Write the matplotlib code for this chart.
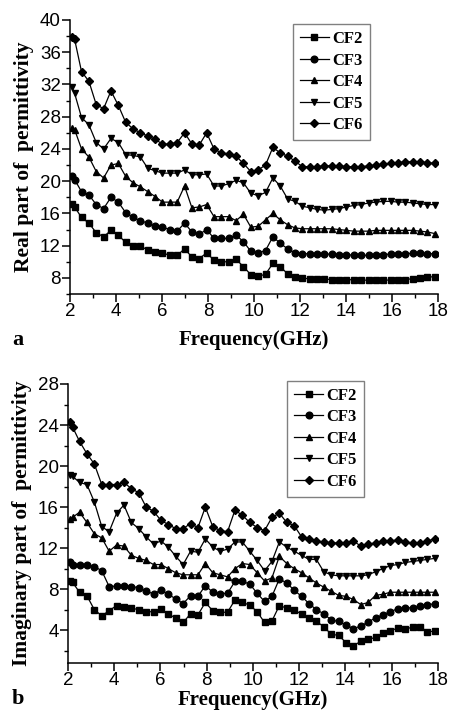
import matplotlib
matplotlib.use('Agg')
import matplotlib.pyplot as plt
from matplotlib.ticker import MultipleLocator

# frequency grid (GHz)
freq = [2.08, 2.2] + [round(2.5 + 0.32 * k, 2) for k in range(49)]

series_names = ['CF2', 'CF3', 'CF4', 'CF5', 'CF6']
markers = ['s', 'o', '^', 'v', 'D']

# (a) real part of permittivity
real_cf2 = [17.2, 16.8, 15.5, 14.8, 13.6, 13.1, 13.9, 13.3, 12.4, 12.0,
            11.9, 11.5, 11.2, 11.1, 10.8, 10.8, 11.6, 10.6, 10.4, 11.1,
            10.2, 10.0, 10.0, 10.3, 9.4, 8.4, 8.2, 8.45, 9.8, 9.4,
            8.5, 8.1, 7.95, 7.9, 7.85, 7.85, 7.8, 7.8, 7.8, 7.75,
            7.75, 7.7, 7.7, 7.7, 7.75, 7.75, 7.8, 7.9, 8.0, 8.1, 8.15]
real_cf3 = [20.6, 20.2, 18.7, 18.3, 17.1, 16.6, 18.0, 17.4, 16.1, 15.5,
            15.1, 14.8, 14.4, 14.3, 14.0, 13.8, 14.8, 13.7, 13.4, 14.0,
            12.9, 12.9, 12.9, 13.3, 12.5, 11.3, 11.1, 11.4, 13.1, 12.3,
            11.6, 11.1, 11.0, 11.0, 11.0, 10.95, 10.95, 10.9, 10.9, 10.8,
            10.8, 10.8, 10.85, 10.9, 10.95, 11.0, 11.0, 11.05, 11.05, 11.0, 11.0]
real_cf4 = [26.6, 26.4, 24.0, 23.0, 21.2, 20.4, 22.0, 22.2, 20.6, 19.8,
            19.3, 18.7, 18.1, 17.4, 17.4, 17.4, 19.4, 16.7, 16.8, 17.1,
            15.6, 15.6, 15.6, 15.1, 15.9, 14.3, 14.4, 15.2, 16.0, 15.2,
            14.6, 14.2, 14.1, 14.1, 14.1, 14.1, 14.1, 14.0, 13.9, 13.8,
            13.8, 13.8, 13.9, 13.9, 13.9, 13.9, 13.9, 13.9, 13.8, 13.7, 13.5]
real_cf5 = [31.7, 30.9, 27.9, 27.0, 24.8, 24.0, 25.3, 24.8, 23.3, 23.2,
            23.0, 21.6, 21.3, 21.0, 21.0, 21.0, 21.4, 20.8, 20.8, 20.9,
            19.4, 19.4, 19.7, 20.1, 19.8, 18.5, 18.2, 18.6, 20.4, 19.4,
            17.8, 17.5, 16.9, 16.7, 16.5, 16.4, 16.5, 16.6, 16.8, 17.0,
            17.1, 17.3, 17.4, 17.5, 17.5, 17.4, 17.4, 17.3, 17.2, 17.1, 17.1]
real_cf6 = [37.9, 37.6, 33.6, 32.4, 29.5, 29.0, 31.2, 29.4, 27.3, 26.5,
            26.0, 25.6, 25.2, 24.6, 24.6, 24.8, 26.0, 24.6, 24.5, 26.0,
            24.0, 23.5, 23.4, 23.1, 22.2, 21.2, 21.4, 22.0, 24.2, 23.5,
            23.1, 22.5, 21.8, 21.8, 21.8, 21.9, 21.9, 21.9, 21.8, 21.8,
            21.8, 21.9, 22.0, 22.1, 22.2, 22.3, 22.4, 22.4, 22.4, 22.3, 22.2]

# (b) imaginary part of permittivity
imag_cf2 = [8.8, 8.65, 7.7, 7.35, 6.0, 5.4, 5.9, 6.4, 6.3, 6.15,
            6.0, 5.8, 5.8, 6.1, 5.55, 5.2, 4.75, 5.6, 5.5, 6.7,
            5.9, 5.75, 5.75, 6.95, 6.7, 6.45, 5.8, 4.75, 4.9, 6.4,
            6.15, 6.0, 5.55, 5.2, 4.85, 4.35, 3.6, 3.5, 2.8, 2.5,
            2.9, 3.1, 3.3, 3.7, 3.95, 4.2, 4.1, 4.3, 4.35, 3.85, 3.9]
imag_cf3 = [10.6, 10.4, 10.4, 10.35, 10.2, 9.8, 8.25, 8.3, 8.3, 8.25,
            8.15, 7.8, 7.55, 7.9, 7.5, 7.05, 6.6, 7.35, 7.3, 8.35,
            7.7, 7.55, 7.6, 8.75, 8.75, 8.5, 7.6, 6.8, 7.3, 9.0,
            8.6, 7.9, 7.3, 6.6, 6.0, 5.6, 5.0, 4.85, 4.5, 4.15,
            4.4, 4.8, 5.2, 5.5, 5.8, 6.1, 6.15, 6.2, 6.4, 6.45, 6.6]
imag_cf4 = [14.8, 15.0, 15.5, 14.5, 13.4, 13.0, 11.7, 12.3, 12.2, 11.3,
            11.0, 10.8, 10.4, 10.4, 10.0, 9.6, 9.4, 9.4, 9.4, 10.5,
            9.6, 9.4, 9.2, 10.0, 10.5, 10.4, 9.6, 8.8, 9.1, 11.2,
            10.5, 10.0, 9.6, 9.1, 8.6, 8.2, 7.8, 7.4, 7.3, 7.0,
            6.5, 6.7, 7.4, 7.5, 7.7, 7.7, 7.7, 7.7, 7.7, 7.7, 7.7]
imag_cf5 = [19.1, 19.0, 18.4, 18.2, 16.5, 14.1, 13.6, 15.4, 16.2, 14.5,
            13.9, 13.1, 12.4, 12.7, 12.1, 11.2, 10.4, 11.7, 11.6, 12.9,
            12.1, 11.7, 11.9, 12.6, 12.6, 11.7, 10.8, 9.8, 10.7, 12.6,
            12.1, 11.7, 11.3, 10.9, 10.9, 9.7, 9.4, 9.3, 9.3, 9.3,
            9.3, 9.4, 9.7, 10.0, 10.3, 10.4, 10.6, 10.7, 10.8, 10.9, 11.0]
imag_cf6 = [24.3, 23.8, 22.4, 21.2, 20.2, 18.2, 18.2, 18.2, 18.4, 17.8,
            17.4, 16.0, 15.6, 14.7, 14.3, 13.9, 13.9, 14.4, 14.0, 16.0,
            14.1, 13.7, 13.6, 15.7, 15.2, 14.5, 14.0, 13.7, 15.0, 15.4,
            14.5, 14.2, 13.1, 12.9, 12.7, 12.6, 12.5, 12.5, 12.5, 12.7,
            12.2, 12.4, 12.5, 12.7, 12.7, 12.8, 12.6, 12.5, 12.5, 12.7, 12.9]

real_data = [real_cf2, real_cf3, real_cf4, real_cf5, real_cf6]
imag_data = [imag_cf2, imag_cf3, imag_cf4, imag_cf5, imag_cf6]

x_ticks = [2, 4, 6, 8, 10, 12, 14, 16, 18]
real_ticks = [8, 12, 16, 20, 24, 28, 32, 36, 40]
imag_ticks = [4, 8, 12, 16, 20, 24, 28]

SERIF = ['Liberation Serif', 'DejaVu Serif']
SANS = ['Liberation Sans', 'DejaVu Sans']

fig = plt.figure(figsize=(4.52, 7.14), dpi=100)
ax1 = fig.add_axes([0.1549, 0.5882, 0.8142, 0.3838])
ax2 = fig.add_axes([0.1504, 0.0714, 0.8186, 0.3908])


def style(ax, data, ylim, yticks, ylabel, legend_anchor, xlabelpad):
    for name, mk, ys in zip(series_names, markers, data):
        ms = 4.8 if mk != 'D' else 4.5
        ax.plot(freq, ys, color='black', linewidth=0.9, marker=mk,
                markersize=ms, markerfacecolor='black',
                markeredgecolor='black', label=name)
    ax.set_xlim(2, 18)
    ax.set_ylim(*ylim)
    ax.set_xticks(x_ticks)
    ax.set_yticks(yticks)
    ax.xaxis.set_minor_locator(MultipleLocator(1))
    ax.yaxis.set_minor_locator(MultipleLocator(2))
    for s in ['top', 'right']:
        ax.spines[s].set_visible(False)
    for s in ['left', 'bottom']:
        ax.spines[s].set_linewidth(1.1)
    ax.tick_params(which='major', direction='out', length=5.5, width=1.1,
                   pad=1.0, labelsize=13.5)
    ax.tick_params(which='minor', direction='out', length=3.0, width=1.0)
    for lab in ax.get_xticklabels() + ax.get_yticklabels():
        lab.set_fontfamily(SANS)
    ax.set_xlabel('Frequency(GHz)', family=SERIF, fontweight='bold',
                  fontsize=15, labelpad=xlabelpad)
    ax.set_ylabel(ylabel, family=SERIF, fontweight='bold', fontsize=15.5,
                  labelpad=4)
    leg = ax.legend(loc='upper left', bbox_to_anchor=legend_anchor,
                    borderaxespad=0, frameon=True, fancybox=False,
                    framealpha=1, edgecolor='#808080', handlelength=1.75,
                    handletextpad=0.2, labelspacing=0.33, borderpad=0.42,
                    prop={'family': SERIF, 'weight': 'bold', 'size': 12})
    leg.get_frame().set_linewidth(1.0)


style(ax1, real_data, (6, 40), real_ticks, 'Real part of  permittivity',
      (0.605, 0.985), 7)
style(ax2, imag_data, (0.8, 28), imag_ticks,
      'Imaginary part of  permittivity', (0.592, 1.012), 1)

fig.text(12 / 452, 1 - 345 / 714, 'a', family=SERIF, fontweight='bold',
         fontsize=16, ha='left', va='baseline')
fig.text(12 / 452, 1 - 704 / 714, 'b', family=SERIF, fontweight='bold',
         fontsize=16, ha='left', va='baseline')

fig.savefig('out.png', dpi=100)
